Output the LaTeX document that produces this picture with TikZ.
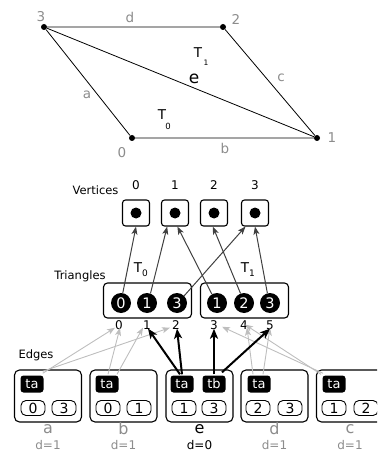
\documentclass[tikz,border=0pt]{standalone}
\usepackage{fontspec}
\setmainfont{DejaVu Sans}
\usetikzlibrary{arrows.meta}
\definecolor{lbl}{HTML}{8C8C8C}
\definecolor{lightarr}{HTML}{BEBEBE}
\definecolor{darkarr}{HTML}{404040}
\newcommand{\fsz}[1]{\fontsize{#1}{#1}\selectfont}
\begin{document}
\begin{tikzpicture}[x=1pt,y=-1pt,
  vdot/.style={circle,fill=black,inner sep=0pt,minimum size=6pt},
  glbl/.style={text=lbl,font=\fsz{13.5}},
  sect/.style={font=\fsz{11.5}},
  vbox/.style={draw,line width=1.1pt,rounded corners=3pt,minimum width=27pt,minimum height=26pt,inner sep=0pt},
  vinner/.style={circle,fill=black,inner sep=0pt,minimum size=11pt},
  tribox/.style={draw,line width=1.1pt,rounded corners=4pt,minimum width=88pt,minimum height=35pt,inner sep=0pt},
  tcirc/.style={circle,fill=black,inner sep=0pt,minimum size=20pt,text=white,font=\fsz{14.5}},
  idx/.style={font=\fsz{12},inner sep=1pt},
  ebox/.style={draw,line width=1.1pt,rounded corners=5pt,minimum width=67pt,minimum height=52pt,inner sep=0pt},
  tag/.style={fill=black,rounded corners=3pt,text=white,font=\fsz{13},minimum width=23pt,minimum height=17pt,inner sep=0pt},
  sbox/.style={draw,line width=0.9pt,rounded corners=5pt,minimum width=24pt,minimum height=15pt,inner sep=0pt,font=\fsz{14}},
  ename/.style={font=\fsz{16}},
  dval/.style={font=\fsz{12}},
  varrow/.style={draw=darkarr,line width=1pt,-{Stealth[length=8pt,width=6pt,inset=2pt]}},
  garrow/.style={draw=lightarr,line width=0.9pt,-{Stealth[length=8pt,width=6pt,inset=2pt]}},
  barrow/.style={draw=black,line width=2pt,-{Stealth[length=10pt,width=8pt,inset=2.5pt]}}
]
\clip (0,0) rectangle (377,454);
% ---------- top mesh ----------
\node[vdot] (p0) at (132,138) {};
\node[vdot] (p1) at (317,138) {};
\node[vdot] (p2) at (223,27) {};
\node[vdot] (p3) at (44,27) {};
\draw[line width=0.8pt] (p0) -- (p1) -- (p2) -- (p3) -- (p0);
\draw[line width=0.8pt] (p3) -- (p1);
\node[glbl] (l3) at (41,17) {3};
\node[glbl] (ld) at (130,17) {d};
\node[glbl] (l2) at (236,19) {2};
\node[glbl] (lc) at (281,78) {c};
\node[glbl] (la) at (87,95) {a};
\node[glbl] (l0) at (122,153) {0};
\node[glbl] (lb) at (225,148) {b};
\node[glbl] (l1) at (332,138) {1};
\node[font=\fsz{13.5}] (t1T) at (198,53) {T};
\node[font=\fsz{7.5}] (t1s) at (206,63) {1};
\node[font=\fsz{17}] (le) at (194,79) {e};
\node[font=\fsz{13.5}] (t0T) at (162,115) {T};
\node[font=\fsz{8.5}] (t0s) at (168,126) {0};
% ---------- vertices ----------
\node[sect] (vlab) at (95.5,190) {Vertices};
\foreach \i/\x in {0/136,1/175,2/214,3/255}{
  \node[font=\fsz{12}] (vn\i) at (\x,185) {\i};
  \node[vbox] (v\i) at (\x,213) {};
  \node[vinner] at (v\i) {};
}
% ---------- triangles ----------
\node[sect] (tlab) at (80,276) {Triangles};
\node[tribox] (T0) at (147.5,300.5) {};
\node[tribox] (T1) at (244.5,300.5) {};
\node[font=\fsz{13.5}] (m0T) at (138,268) {T};
\node[font=\fsz{9}] (m0s) at (145,273) {0};
\node[font=\fsz{13.5}] (m1T) at (245,268) {T};
\node[font=\fsz{9}] (m1s) at (252,273) {1};
\node[tcirc] (c00) at (121,303) {0};
\node[tcirc] (c01) at (147,303) {1};
\node[tcirc] (c03) at (177,303) {3};
\node[tcirc] (c11) at (217,303) {1};
\node[tcirc] (c12) at (244,303) {2};
\node[tcirc] (c13) at (270,303) {3};
\draw[varrow] (c00.80) -- (v0.south);
\draw[varrow] (c01.70) -- (v1.240);
\draw[varrow] (c03.45) -- (v3.235);
\draw[varrow] (c11.120) -- (v1.280);
\draw[varrow] (c12.110) -- (v2.265);
\draw[varrow] (c13.105) -- (v3.270);
\foreach \i/\x in {0/119,1/147,2/176,3/214,4/244,5/270}{
  \node[idx] (i\i) at (\x,325) {\i};
}
% ---------- edges ----------
\node[sect] (elab) at (36,355) {Edges};
% a
\node[ebox] (ea) at (48,396) {};
\node[tag] (ea1) at (32,384) {ta};
\node[sbox] (ea2) at (33,408) {0};
\node[sbox] (ea3) at (64,408) {3};
\node[ename,text=lbl] (ean) at (48,429) {a};
\node[dval,text=lbl] (ead) at (48,445) {d=1};
% b
\node[ebox] (eb) at (123.5,396) {};
\node[tag] (eb1) at (107,384) {ta};
\node[sbox] (eb2) at (108,408) {0};
\node[sbox] (eb3) at (139,408) {1};
\node[ename,text=lbl] (ebn) at (123.5,429) {b};
\node[dval,text=lbl] (ebd) at (123.5,445) {d=1};
% e
\node[ebox] (ee) at (199.5,396) {};
\node[tag] (ee1) at (182,384) {ta};
\node[tag] (ee4) at (214,384) {tb};
\node[sbox] (ee2) at (184,408) {1};
\node[sbox] (ee3) at (214,408) {3};
\node[ename] (een) at (199.5,429) {e};
\node[dval] (eed) at (199.5,445) {d=0};
% d
\node[ebox] (ed) at (274.5,396) {};
\node[tag] (ed1) at (259,384) {ta};
\node[sbox] (ed2) at (258,408) {2};
\node[sbox] (ed3) at (290,408) {3};
\node[ename,text=lbl] (edn) at (274.5,429) {d};
\node[dval,text=lbl] (edd) at (274.5,445) {d=1};
% c
\node[ebox] (ec) at (350,396) {};
\node[tag] (ec1) at (334,384) {ta};
\node[sbox] (ec2) at (334,408) {1};
\node[sbox] (ec3) at (366,408) {2};
\node[ename,text=lbl] (ecn) at (350,429) {c};
\node[dval,text=lbl] (ecd) at (350,445) {d=1};
% gray arrows
\draw[garrow] ([xshift=-1pt,yshift=2pt]ea1.north east) -- ([xshift=-4pt,yshift=3pt]i0.south);
\draw[garrow] ([xshift=-1pt,yshift=4pt]ea1.north east) -- ([xshift=-6pt,yshift=3pt]i2.south);
\draw[garrow] ([xshift=1pt,yshift=1pt]eb1.north) -- ([xshift=1pt,yshift=3pt]i0.south);
\draw[garrow] ([xshift=10pt,yshift=1pt]eb1.north) -- ([xshift=-4pt,yshift=3pt]i1.south);
\draw[garrow] ([xshift=-6pt,yshift=1pt]ed1.north) -- ([xshift=3pt,yshift=3pt]i4.south);
\draw[garrow] ([xshift=4pt,yshift=1pt]ed1.north) -- ([xshift=0pt,yshift=3pt]i5.south);
\draw[garrow] ([xshift=-11pt,yshift=2pt]ec1.north) -- ([xshift=8pt,yshift=4pt]i3.south);
\draw[garrow] ([xshift=-13pt,yshift=1pt]ec1.north) -- ([xshift=1pt,yshift=6pt]i4.south);
% black arrows
\draw[barrow] ([xshift=-2pt,yshift=1pt]ee1.north) -- ([xshift=1pt,yshift=2pt]i1.south);
\draw[barrow] ([xshift=0pt,yshift=1pt]ee1.north) -- ([xshift=1pt,yshift=2pt]i2.south);
\draw[barrow] ([yshift=1pt]ee4.north) -- ([yshift=2pt]i3.south);
\draw[barrow] ([xshift=8pt,yshift=3pt]ee4.north) -- ([xshift=0pt,yshift=2pt]i5.south);
\end{tikzpicture}
\end{document}
